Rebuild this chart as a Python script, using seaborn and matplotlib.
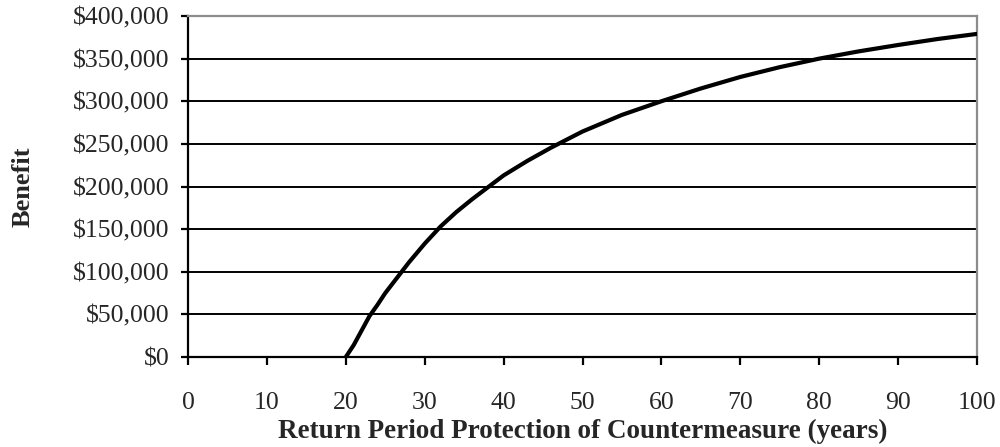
import numpy as np
import pandas as pd
import matplotlib
matplotlib.use("Agg")
import matplotlib.pyplot as plt
from matplotlib.ticker import FuncFormatter, MultipleLocator
import seaborn as sns

# values
return_period = [20, 21, 22, 23, 24, 25, 26, 27, 28, 30, 32, 34, 36, 38, 40,
                 43, 46, 50, 55, 60, 65, 70, 75, 80, 85, 90, 95, 100]
benefit = [0, 14000, 31000, 48000, 61000, 75000, 87000, 99000, 111000,
           133000, 153000, 170000, 185000, 199000, 213000, 230000, 245500,
           264500, 284000, 300000, 315000, 328500, 340000, 350000, 358500,
           366000, 373000, 379000]

df = pd.DataFrame({"T": return_period, "B": benefit})

sns.set_theme(style="white")
plt.rcParams["font.family"] = ["Liberation Serif", "DejaVu Serif"]

fig = plt.figure(figsize=(10, 4.47), dpi=100)
ax = fig.add_axes([0.188, 0.2013, 0.789, 0.7629])

ax.yaxis.set_major_locator(MultipleLocator(50000))
ax.xaxis.set_major_locator(MultipleLocator(10))
for v in np.arange(50000, 400000, 50000):
    ax.axhline(v, color="black", lw=1.4, zorder=1)

sns.lineplot(data=df, x="T", y="B", ax=ax, color="black", lw=3.0, zorder=3)

ax.set_xlim(0, 100)
ax.set_ylim(0, 400000)
ax.yaxis.set_major_formatter(FuncFormatter(lambda v, p: "${:,.0f}".format(v)))

for s in ["left", "bottom"]:
    ax.spines[s].set_color("black")
    ax.spines[s].set_linewidth(1.6)
for s in ["top", "right"]:
    ax.spines[s].set_color("#8c8c8c")
    ax.spines[s].set_linewidth(1.6)

ax.tick_params(axis="x", direction="out", length=6, width=1.6, color="black",
               pad=19, labelsize=18.5)
ax.tick_params(axis="y", direction="out", length=5, width=1.6, color="black",
               pad=8.5, labelsize=18.5)
ax.xaxis.set_ticks_position("bottom")
ax.yaxis.set_ticks_position("left")

ax.set_xlabel("Return Period Protection of Countermeasure (years)",
              fontsize=19.5, fontweight="bold", labelpad=4)
ax.set_ylabel("Benefit", fontsize=19, fontweight="bold", labelpad=27)

fig.savefig("out.png", dpi=100)
